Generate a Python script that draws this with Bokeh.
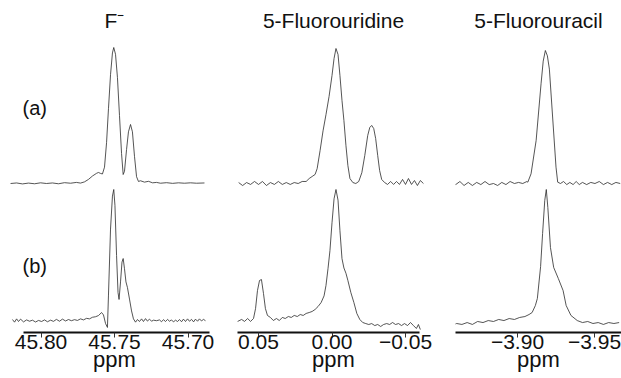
from bokeh.plotting import figure
from bokeh.layouts import row
from bokeh.models import Range1d, FixedTicker, Label
from bokeh.embed import file_html
from bokeh.resources import INLINE

FONT = "Liberation Sans"

# ---------------- data ----------------
titles = ["F\u207b", "5-Fluorouridine", "5-Fluorouracil"]
row_labels = ["(a)", "(b)"]
axis_title = "ppm"

ticks_f = [45.80, 45.75, 45.70]
tick_labels_f = ["45.80", "45.75", "45.70"]
ticks_fu = [0.05, 0.00, -0.05]
tick_labels_fu = ["0.05", "0.00", "\u22120.05"]
ticks_fura = [-3.90, -3.95]
tick_labels_fura = ["\u22123.90", "\u22123.95"]

# F- , trace (a)
f_a_ppm = [45.8207, 45.8166, 45.8126, 45.8085, 45.8044, 45.8003, 45.7963, 45.7922, 45.7881,
           45.7840, 45.7799, 45.7759, 45.7731, 45.7704, 45.7677, 45.7650, 45.7622, 45.7609,
           45.7595, 45.7582, 45.7568, 45.7554, 45.7541, 45.7527, 45.7514, 45.7505, 45.7493,
           45.7480, 45.7466, 45.7452, 45.7441, 45.7432, 45.7418, 45.7405, 45.7391, 45.7378,
           45.7364, 45.7350, 45.7337, 45.7323, 45.7296, 45.7269, 45.7241, 45.7214, 45.7187,
           45.7146, 45.7105, 45.7065, 45.7024, 45.6983, 45.6942, 45.6888]
f_a_int = [0.0, 0.4, -0.3, 0.3, -0.2, 0.5, 0.0, 0.4, -0.2,
           0.6, 0.2, 0.8, 0.3, 1.2, 3.0, 5.5, 7.5, 8.1,
           7.4, 7.0, 12.0, 30.0, 55.0, 80.0, 96.0, 100.0, 95.0,
           78.0, 50.0, 22.0, 6.6, 9.0, 25.0, 38.0, 43.4, 38.0,
           20.0, 5.0, 1.5, 2.0, 1.0, 1.6, 0.5, 0.8, 0.2,
           0.6, 0.1, 0.5, 0.2, 0.5, 0.2, 0.4]

# F- , trace (b)
f_b_ppm = [45.8194, 45.8180, 45.8166, 45.8153, 45.8139, 45.8119, 45.8098, 45.8078, 45.8058,
           45.8037, 45.8017, 45.7996, 45.7976, 45.7956, 45.7935, 45.7915, 45.7895, 45.7874,
           45.7854, 45.7833, 45.7813, 45.7793, 45.7772, 45.7752, 45.7731, 45.7711, 45.7690,
           45.7670, 45.7650, 45.7629, 45.7609, 45.7588, 45.7575, 45.7561, 45.7548, 45.7541,
           45.7527, 45.7514, 45.7505, 45.7497, 45.7486, 45.7476, 45.7469, 45.7459, 45.7449,
           45.7441, 45.7432, 45.7422, 45.7412, 45.7398, 45.7384, 45.7371, 45.7357, 45.7344,
           45.7330, 45.7316, 45.7303, 45.7289, 45.7276, 45.7262, 45.7248, 45.7235, 45.7214,
           45.7194, 45.7180, 45.7167, 45.7153, 45.7139, 45.7126, 45.7112, 45.7099, 45.7085,
           45.7071, 45.7058, 45.7044, 45.7031, 45.7017, 45.7003, 45.6990, 45.6976, 45.6962,
           45.6949, 45.6935, 45.6922, 45.6908, 45.6895, 45.6881]
f_b_int = [1.5, -0.5, 2.0, 0.0, 1.8, -0.3, 1.2, 0.2, 1.0,
           -0.4, 0.8, 0.0, 1.2, -0.2, 1.0, 0.1, 1.6, 0.2,
           1.8, 0.4, 1.5, 0.6, 1.4, 0.8, 2.0, 1.2, 2.4,
           2.0, 3.2, 3.6, 4.5, 6.8, 5.0, -1.5, -4.5, 20.0,
           70.0, 95.0, 100.0, 88.0, 50.0, 22.0, 16.7, 30.0, 45.0,
           47.7, 40.0, 30.0, 25.8, 17.0, 8.0, 2.0, -0.5, 1.5,
           0.0, 2.0, 0.0, 2.2, 0.3, 1.8, 0.2, 1.0, 0.6,
           1.2, -0.2, 1.4, 0.0, 1.6, 0.2, 1.2, -0.3, 1.0,
           0.0, 1.5, -0.2, 1.8, 0.0, 2.0, 0.2, 1.6, -0.3,
           1.8, 0.2, 2.0, 0.4, 1.6, 0.6]

# 5-Fluorouridine, trace (a)
fu_a_ppm = [0.0635, 0.0608, 0.0581, 0.0554, 0.0527, 0.0500, 0.0473, 0.0446, 0.0419, 0.0392,
            0.0365, 0.0338, 0.0311, 0.0284, 0.0257, 0.0230, 0.0203, 0.0176, 0.0155, 0.0135,
            0.0115, 0.0101, 0.0081, 0.0061, 0.0041, 0.0020, 0.0000, -0.0014, -0.0027, -0.0041,
            -0.0054, -0.0068, -0.0081, -0.0095, -0.0108, -0.0122, -0.0142, -0.0162, -0.0182,
            -0.0203, -0.0223, -0.0243, -0.0257, -0.0270, -0.0284, -0.0297, -0.0311, -0.0324,
            -0.0338, -0.0358, -0.0378, -0.0399, -0.0419, -0.0439, -0.0459, -0.0480, -0.0500,
            -0.0520, -0.0541, -0.0561, -0.0581, -0.0601, -0.0622]
fu_a_int = [0.7, -1.5, 0.7, -0.7, 1.5, -0.7, 1.5, -1.5, 0.7, -0.7,
            1.5, -0.7, 0.7, -0.7, 0.7, 0.0, 1.5, 1.5, 3.7, 5.2,
            6.7, 11.0, 24.4, 39.0, 51.0, 64.4, 80.0, 92.6, 100.0, 95.6,
            80.0, 61.5, 46.7, 28.0, 13.3, 3.7, 0.7, 0.0, 1.5,
            8.0, 20.7, 35.6, 41.5, 43.0, 40.7, 33.3, 20.7, 9.6,
            3.0, 0.7, -0.7, 1.5, -0.7, 1.5, -0.7, 3.0, -0.7,
            3.7, -0.7, 2.2, -1.5, 2.2, 0.0]

# 5-Fluorouridine, trace (b)
fu_b_ppm = [0.0642, 0.0615, 0.0595, 0.0574, 0.0554, 0.0534, 0.0520, 0.0507, 0.0493, 0.0480,
            0.0466, 0.0453, 0.0439, 0.0419, 0.0399, 0.0378, 0.0358, 0.0338, 0.0318, 0.0297,
            0.0277, 0.0257, 0.0236, 0.0216, 0.0196, 0.0176, 0.0155, 0.0135, 0.0115, 0.0095,
            0.0074, 0.0054, 0.0041, 0.0027, 0.0014, 0.0000, -0.0014, -0.0027, -0.0041, -0.0054,
            -0.0068, -0.0081, -0.0095, -0.0108, -0.0128, -0.0149, -0.0169, -0.0189, -0.0209,
            -0.0230, -0.0250, -0.0270, -0.0291, -0.0311, -0.0331, -0.0351, -0.0372, -0.0392,
            -0.0412, -0.0432, -0.0453, -0.0473, -0.0493, -0.0514, -0.0534, -0.0554, -0.0574,
            -0.0588, -0.0601]
fu_b_int = [0.8, 2.3, 0.8, 3.0, 0.8, 3.0, 10.5, 24.0, 31.6, 32.3,
            21.8, 10.5, 5.3, 3.8, 1.5, 3.0, 1.5, 3.8, 3.0, 4.5,
            3.8, 5.3, 4.5, 6.0, 5.3, 6.8, 7.5, 8.3, 9.8, 12.0,
            15.0, 20.0, 27.8, 40.6, 54.0, 75.0, 93.0, 100.0, 92.0, 69.0,
            48.0, 41.0, 37.0, 31.6, 22.6, 15.0, 6.8, 2.3, 0.0,
            -0.8, -1.5, -0.8, -2.3, -1.5, -3.0, -1.5, -0.8, -1.5,
            0.0, -1.5, -0.8, -2.3, -0.8, -2.3, 0.0, -2.3, -4.5,
            -1.5, -5.3]

# 5-Fluorouracil, trace (a)
fura_a_ppm = [-3.8571, -3.8599, -3.8626, -3.8653, -3.8680, -3.8707, -3.8735, -3.8762, -3.8789,
              -3.8816, -3.8844, -3.8871, -3.8898, -3.8925, -3.8952, -3.8980, -3.9007, -3.9034,
              -3.9061, -3.9067, -3.9088, -3.9121, -3.9153, -3.9167, -3.9181, -3.9194, -3.9207,
              -3.9228, -3.9250, -3.9261, -3.9279, -3.9299, -3.9320, -3.9340, -3.9361, -3.9381,
              -3.9401, -3.9422, -3.9449, -3.9476, -3.9503, -3.9531, -3.9558, -3.9585, -3.9612,
              -3.9639, -3.9667]
fura_a_int = [0.8, -0.8, 1.5, -1.5, 0.8, -1.5, 0.8, -0.8, 1.5,
              -0.8, 0.0, -1.5, 0.8, -0.8, 1.5, 0.0, 0.8, 0.0,
              1.5, 1.0, 7.3, 32.3, 75.0, 92.0, 100.0, 96.0, 86.0,
              50.0, 12.3, 1.0, 0.0, 1.5, -0.8, 0.8, -0.8, 1.5,
              -0.8, 0.8, -0.8, 0.8, 0.0, 1.5, -0.8, 0.8, -0.8,
              0.8, 0.0]

# 5-Fluorouracil, trace (b)
fura_b_ppm = [-3.8571, -3.8605, -3.8639, -3.8673, -3.8707, -3.8741, -3.8776, -3.8810, -3.8844,
              -3.8878, -3.8912, -3.8946, -3.8980, -3.9014, -3.9048, -3.9075, -3.9095, -3.9116,
              -3.9129, -3.9150, -3.9163, -3.9177, -3.9187, -3.9197, -3.9214, -3.9235, -3.9265,
              -3.9296, -3.9316, -3.9347, -3.9388, -3.9422, -3.9456, -3.9490, -3.9524, -3.9558,
              -3.9592, -3.9626, -3.9660]
fura_b_int = [-1.5, 0.0, -0.7, 0.7, -0.7, 1.5, 0.7, 2.2, 1.5,
              3.0, 2.2, 3.7, 3.0, 4.5, 5.2, 6.7, 8.2, 13.4,
              18.7, 42.5, 67.2, 91.8, 100.0, 86.6, 56.7, 41.8, 33.6,
              24.6, 13.4, 6.0, 2.2, 0.7, 1.5, 0.0, 0.7, -0.7,
              0.7, 0.0, 0.7]

# ---------------- layout ----------------
TOTAL_H = 378
BORDER_TOP = 36
BORDER_BOT = 46
FRAME_TOP = BORDER_TOP
FRAME_BOT = TOTAL_H - BORDER_BOT
LINE_COLOR = "#2a2a2a"


def y_range(base_px, peak_px):
    ppu = (base_px - peak_px) / 100.0
    return Range1d(-(FRAME_BOT - base_px) / ppu, (base_px - FRAME_TOP) / ppu)


panels = [
    dict(title=titles[0], ticks=ticks_f, labels=tick_labels_f, anchor=45.75, anchor_px=114, scale=1470.0,
         left=0, right=228, frame_left=0, ax_l=23, ax_r=209,
         a=(f_a_ppm, f_a_int), b=(f_b_ppm, f_b_int), a_px=(183, 47), b_px=(321, 189)),
    dict(title=titles[1], ticks=ticks_fu, labels=tick_labels_fu, anchor=0.0, anchor_px=331.5, scale=1470.0,
         left=228, right=438, frame_left=228, ax_l=237, ax_r=419,
         a=(fu_a_ppm, fu_a_int), b=(fu_b_ppm, fu_b_int), a_px=(183, 48), b_px=(322, 189)),
    dict(title=titles[2], ticks=ticks_fura, labels=tick_labels_fura, anchor=-3.90, anchor_px=517, scale=1540.0,
         left=438, right=621, frame_left=455, ax_l=455, ax_r=621,
         a=(fura_a_ppm, fura_a_int), b=(fura_b_ppm, fura_b_int), a_px=(183, 50), b_px=(323, 189)),
]

figs = []
for i, pn in enumerate(panels):
    to_ppm = lambda px, pn=pn: pn["anchor"] - (px - pn["anchor_px"]) / pn["scale"]
    w = pn["right"] - pn["left"]
    p = figure(width=w, height=TOTAL_H, output_backend="svg", toolbar_location=None,
               x_range=Range1d(to_ppm(pn["frame_left"]), to_ppm(pn["right"])),
               y_range=y_range(*pn["b_px"]), y_axis_location=None,
               min_border_left=pn["frame_left"] - pn["left"], min_border_right=0,
               min_border_top=BORDER_TOP, min_border_bottom=BORDER_BOT,
               title=pn["title"])
    p.extra_y_ranges = {"a": y_range(*pn["a_px"])}
    p.title.align = "center"
    p.title.text_font = FONT
    p.title.text_font_size = "21px"
    p.title.text_font_style = "normal"
    p.title.text_color = "#111111"
    p.grid.visible = False
    p.outline_line_color = None
    p.background_fill_color = "white"
    p.border_fill_color = "white"

    ax = p.xaxis[0]
    ax.bounds = (to_ppm(pn["ax_l"]), to_ppm(pn["ax_r"]))
    ax.ticker = FixedTicker(ticks=pn["ticks"])
    ax.major_label_overrides = {t: l for t, l in zip(pn["ticks"], pn["labels"])}
    ax.axis_line_width = 2
    ax.axis_line_color = "#111111"
    ax.major_tick_in = 0
    ax.major_tick_out = 5
    ax.major_tick_line_color = "#333333"
    ax.minor_tick_line_color = None
    ax.major_label_standoff = -3
    ax.major_label_text_font = FONT
    ax.major_label_text_font_size = "21px"
    ax.major_label_text_color = "#111111"
    ax.axis_label = axis_title
    ax.axis_label_text_font = FONT
    ax.axis_label_text_font_size = "22px"
    ax.axis_label_text_font_style = "normal"
    ax.axis_label_text_color = "#111111"
    ax.axis_label_standoff = -5

    p.line(pn["a"][0], pn["a"][1], y_range_name="a", line_color=LINE_COLOR, line_width=0.8)
    p.line(pn["b"][0], pn["b"][1], line_color=LINE_COLOR, line_width=0.8)

    if i == 0:
        for txt, base_y in zip(row_labels, (107, 265)):
            p.add_layout(Label(x=22, y=FRAME_BOT - base_y, x_units="screen", y_units="screen",
                               text=txt, text_font=FONT, text_font_size="20px",
                               text_color="#111111", text_baseline="alphabetic"))
    figs.append(p)

layout = row(*figs, spacing=0)
open("out.html", "w").write(file_html(layout, INLINE))
